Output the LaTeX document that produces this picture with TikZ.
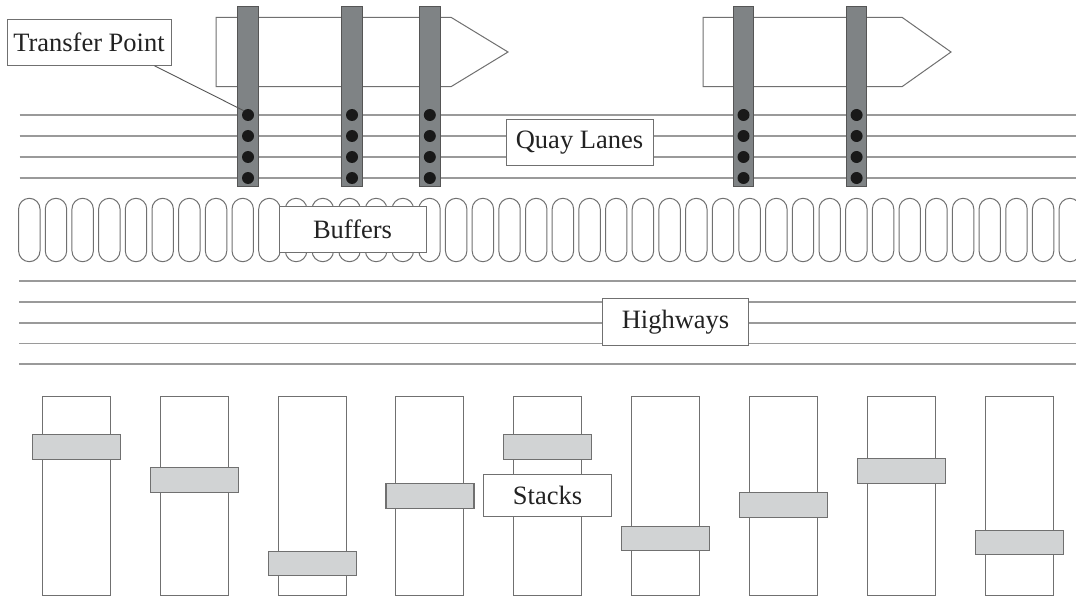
\documentclass[tikz,border=0pt]{standalone}
\usepackage{fontspec}
\setmainfont{Liberation Serif}
\usetikzlibrary{calc}
\definecolor{lanegray}{HTML}{9A9A9A}
\definecolor{cranefill}{HTML}{7F8385}
\definecolor{craneedge}{HTML}{555555}
\definecolor{barfill}{HTML}{D1D3D4}
\definecolor{edgegray}{HTML}{707070}
\definecolor{txt}{HTML}{222222}
\tikzset{
  lane/.style={draw=lanegray, line width=1.3pt},
  shipbody/.style={draw=edgegray, line width=1pt, fill=white},
  crane/.style={draw=craneedge, fill=cranefill, line width=1pt},
  tpdot/.style={circle, fill=black!90, draw=none, minimum size=12pt, inner sep=0pt},
  pill/.style={draw=edgegray, line width=1pt, rounded corners=10.7pt},
  stackbox/.style={draw=edgegray, line width=1pt, fill=white},
  stackbar/.style={draw=edgegray, fill=barfill, line width=1.2pt},
  lbl/.style={draw=edgegray, fill=white, line width=1pt, inner sep=0pt, text=txt,
    font=\rmfamily\fontsize{26.5}{30}\selectfont}
}
\begin{document}
\begin{tikzpicture}[x=1pt,y=-1pt]
\useasboundingbox (0,0) rectangle (1076,599);
\fill[white] (0,0) rectangle (1076,599);
% quay lanes
\foreach \y in {115,136,157,178} \draw[lane] (19.5,\y) -- (1076,\y);
% ships
\draw[shipbody] (216,17.3) -- (451,17.3) -- (508,52) -- (451,86.7) -- (216,86.7) -- cycle;
\draw[shipbody] (703,17.3) -- (902,17.3) -- (951,52) -- (902,86.7) -- (703,86.7) -- cycle;
% cranes and transfer points
\foreach \c/\x in {1/248,2/352,3/429.8,4/743.5,5/856.6}{
  \draw[crane] (\x-10.3,6.8) rectangle (\x+10.3,186.5);
  \foreach \r/\y in {1/115,2/136,3/157,4/178}
    \node[tpdot] (d\c\r) at (\x,\y) {};
}
% buffers
\foreach \i in {0,...,39}
  \draw[pill] ({18.6+26.68*\i},198.3) rectangle ++(21.4,63.4);
% highways
\foreach \y in {281,302,323,343.5,364} \draw[lane] (19,\y) -- (1076,\y);
% stacks
\foreach \k/\by in {0/447,1/480,2/563.5,3/496,4/447,5/538.5,6/505,7/471,8/542.5}{
  \draw[stackbox] ({42.4+117.85*\k},396.7) rectangle ++(68,198.3);
  \draw[stackbar] ({32.4+117.85*\k},\by-12.2) rectangle ++(88,24.4);
}
% labels
\node[lbl, minimum width=164pt, minimum height=46pt] (tp) at (89,42.3) {Transfer Point};
\node[lbl, minimum width=147pt, minimum height=46.5pt] (ql) at (579.5,142.5) {Quay Lanes};
\node[lbl, minimum width=147pt, minimum height=46.3pt] (bf) at (352.5,229.2) {Buffers};
\node[lbl, minimum width=146pt, minimum height=46.7pt] (hw) at (675.5,322.3) {Highways};
\node[lbl, minimum width=128.7pt, minimum height=42.3pt] (st) at (547.5,495.8) {Stacks};
\draw[draw=craneedge, line width=0.9pt] ([xshift=-17pt]tp.south east) -- (d11.north west);
\end{tikzpicture}
\end{document}
